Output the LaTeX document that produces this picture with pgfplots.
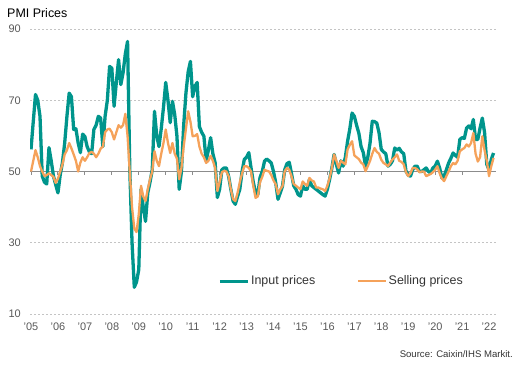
\documentclass[border=0pt]{standalone}
\usepackage{pgfplots}
\pgfplotsset{compat=1.18}
\usepackage{pgfplotstable}
\usepackage{fontspec}
\setmainfont{Liberation Sans}
\definecolor{teal1}{HTML}{00958C}
\definecolor{orange1}{HTML}{F5A25A}
\definecolor{gridgray}{HTML}{C4C4C4}
\definecolor{axgray}{HTML}{8C8C8C}
\definecolor{labgray}{HTML}{595959}
\definecolor{txtgray}{HTML}{333333}

\pgfplotstableread{
m inp sel
0 56.2 50
1 64 53
2 71.6 56
3 70 54
4 65.5 51.5
5 48.7 50
6 47 48.7
7 46.5 49
8 56.7 49.5
9 53 49
10 48.7 48.5
11 46.3 46.8
12 44 48
13 49 50
14 52.5 52
15 58 54.8
16 65.5 56
17 72 58
18 71 56.5
19 61.8 54.8
20 62 53
21 58 50
22 55.3 52.5
23 60.5 54
24 59.8 53
25 57 54
26 55.5 55.2
27 55 55.5
28 61.8 55
29 63 54
30 65.5 55
31 65 56.4
32 57 57
33 65.5 61
34 70 61.8
35 79.5 62
36 79 61
37 68.3 59
38 75 61
39 81.4 63
40 74.4 62.3
41 77.7 63
42 83 66.2
43 86.5 60
44 50.5 49.6
45 30 40
46 17.5 34
47 19 33
48 22.5 38
49 45 46
50 40 43
51 36 41.7
52 44 45
53 47 47.8
54 50.5 50
55 66.9 55.7
56 60 53
57 57 51.5
58 62 55
59 68 58
60 75 61.8
61 70 58
62 63.7 55.2
63 69.7 58
64 66 55
65 59.9 53.6
66 45 47.8
67 50 51
68 63 57
69 72 62
70 78 66.9
71 80.9 64
72 71 59.9
73 73.9 60
74 75 60.5
75 62.6 57
76 61 55
77 59.9 54
78 53 52.4
79 56 53
80 59.5 54.4
81 55 53
82 52.5 51
83 42.7 44.5
84 45 47
85 50.5 49.8
86 51 50.2
87 51 50
88 48.7 48.7
89 45 45
90 41.7 42.2
91 40.8 41.7
92 43 44
93 45 47
94 50 49.5
95 53.4 51.5
96 54 51.5
97 55.3 51
98 51 50
99 47 46
100 44.1 42.6
101 43.5 43
102 48.3 47
103 50 48.5
104 52.9 50.5
105 53.5 50.2
106 53 50
107 52.4 49
108 50 47.5
109 46.8 46.4
110 42.2 43.6
111 44 45
112 45.9 45.9
113 50.5 50.1
114 52.2 51
115 52.6 50.5
116 49.5 48.7
117 46 46.5
118 45 46
119 43.5 45.5
120 43.1 45
121 46 47.2
122 45 46.5
123 45 46
124 47.8 48.2
125 46 47.5
126 45.5 47.2
127 45 45.5
128 44.5 45.5
129 44 45.2
130 43.5 45
131 43.1 44.5
132 45 46
133 47.8 48.2
134 51 51
135 54.8 54.8
136 52 53
137 49.6 51
138 53 53
139 51.5 52.5
140 54 52
141 58.5 56.2
142 62 57.5
143 66.4 58.5
144 65.5 54.5
145 63 54
146 60.8 53.5
147 57 52.5
148 55.3 52
149 51.5 50.1
150 54 51.5
151 58 53
152 64.1 55
153 64 56.6
154 63.6 55.5
155 60.9 55
156 56.2 53.3
157 55.5 52.4
158 55 52
159 51.5 51.5
160 52 52.5
161 53 53.4
162 56.6 54
163 56 54.8
164 56.5 53
165 55.5 52.7
166 55 52
167 50.1 49.8
168 49 48.7
169 48.7 49.5
170 50.5 51
171 51.5 51
172 51.5 50.6
173 50 49.8
174 50 50
175 50.5 50
176 51 48.7
177 50 49
178 49.6 49.3
179 51 49.8
180 51.5 50.5
181 52.9 51.5
182 51 49.5
183 48.2 48
184 48.7 47.3
185 50.5 48.7
186 52.4 50
187 53.7 51.5
188 55.2 52.4
189 54.5 52
190 54 53
191 59 55.7
192 59.5 56.2
193 59.3 56.6
194 62.2 57.6
195 62.8 57
196 62 58
197 64.6 60.8
198 59 55
199 59 52.8
200 62.2 54
201 65 59.9
202 61 56
203 52 53
204 50.5 48.7
205 53.4 51.5
206 55.2 53.8
}\pmidata

\begin{document}
\begin{tikzpicture}
\path[use as bounding box] (0bp,0bp) rectangle (519bp,365bp);
\begin{axis}[
  at={(30bp,51bp)}, anchor=south west,
  scale only axis, width=466bp, height=285bp,
  xmin=-0.45, xmax=207.1, ymin=10, ymax=90,
  axis line style={draw=none},
  major tick length=0pt,
  xtick={0,12,...,204},
  xticklabels={'05,'06,'07,'08,'09,'10,'11,'12,'13,'14,'15,'16,'17,'18,'19,'20,'21,'22},
  ytick={10,30,50,70,90},
  ymajorgrids,
  grid style={gridgray, dash pattern=on 2bp off 2bp, line width=0.7bp},
  tick label style={inner sep=0pt, text=labgray, font=\fontsize{11}{13}\selectfont},
  yticklabel style={xshift=-9bp},
  xticklabel style={yshift=-9bp},
  /pgf/number format/assume math mode=true,
  legend style={draw=none, fill=none, at={(axis cs:83.3,19.2)}, anchor=west,
    inner sep=0pt, legend columns=2, font=\fontsize{12.5}{14}\selectfont, text=txtgray,
    /tikz/every even column/.append style={column sep=40bp},
    nodes={inner sep=1.5bp}},
  legend image code/.code={\draw[#1] (0bp,0bp) -- (28bp,0bp);},
]
\draw[axgray, line width=1.2bp] (axis cs:-0.45,50) -- (axis cs:207.1,50);
\pgfplotsinvokeforeach{0,12,...,204}{\draw[axgray, line width=1bp] (axis cs:#1,50) -- ++(0bp,-3.5bp);}
\addplot[teal1, line width=3.3bp, line join=round] table[x=m, y=inp] {\pmidata};
\addlegendentry{Input prices}
\addplot[orange1, line width=2.3bp, line join=round] table[x=m, y=sel] {\pmidata};
\addlegendentry{Selling prices}
\end{axis}
\node[anchor=base west, inner sep=0pt, text=black, font=\fontsize{12.5}{14}\selectfont] at (7bp,347.5bp) {PMI Prices};
\node[anchor=base east, inner sep=0pt, text=txtgray, font=\fontsize{9.6}{11}\selectfont] at (513bp,8bp) {Source: Caixin/IHS Markit.};
\end{tikzpicture}
\end{document}
